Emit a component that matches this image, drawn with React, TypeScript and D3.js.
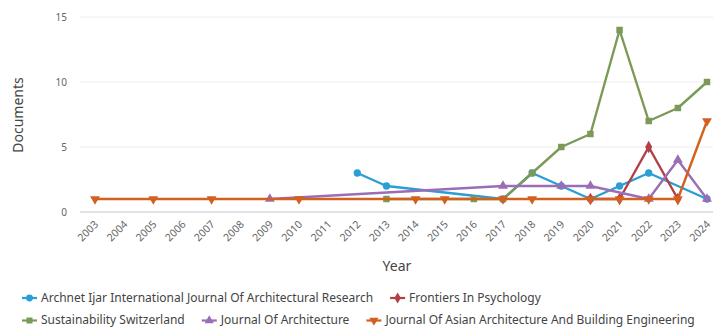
import { useEffect, useRef } from 'react';
import * as d3 from 'd3';

const years = d3.range(2003, 2025);
const yTicks = [0, 5, 10, 15];

const archnetYears = [2012, 2013, 2017, 2018, 2019, 2020, 2021, 2022, 2024];
const archnetValues = [3, 2, 1, 3, 2, 1, 2, 3, 1];

const frontiersYears = [2020, 2021, 2022, 2023];
const frontiersValues = [1, 1, 5, 1];

const sustainYears = [2013, 2016, 2017, 2018, 2019, 2020, 2021, 2022, 2023, 2024];
const sustainValues = [1, 1, 1, 3, 5, 6, 14, 7, 8, 10];

const archJournalYears = [2009, 2017, 2019, 2020, 2022, 2023, 2024];
const archJournalValues = [1, 2, 2, 2, 1, 4, 1];

const asianYears = [2003, 2005, 2007, 2010, 2014, 2015, 2017, 2018, 2020, 2021, 2022, 2023, 2024];
const asianValues = [1, 1, 1, 1, 1, 1, 1, 1, 1, 1, 1, 1, 7];

const seriesNames = [
  'Archnet Ijar International Journal Of Architectural Research',
  'Frontiers In Psychology',
  'Sustainability Switzerland',
  'Journal Of Architecture',
  'Journal Of Asian Architecture And Building Engineering',
];
const seriesColors = ['#2b9ed3', '#b23f45', '#7b9a58', '#9a6db6', '#d4601f'];
const seriesSymbols = [d3.symbolCircle, d3.symbolDiamond, d3.symbolSquare, d3.symbolTriangle, d3.symbolTriangle];
// legend rows: indexes of series on each row
const legendRows = [[0, 1], [2, 3, 4]];

const FONT = '"Noto Sans", "Open Sans", sans-serif';

export default function App() {
  const ref = useRef<SVGSVGElement>(null);

  useEffect(() => {
    if (!ref.current) return;
    const svg = d3.select(ref.current);
    svg.selectAll('*').remove();

    const W = 713;
    const x = d3.scalePoint<number>().domain(years).range([95, 707]);
    const y = d3.scaleLinear().domain([0, 15]).range([212, 17]);

    const series = [
      { xs: archnetYears, vs: archnetValues },
      { xs: frontiersYears, vs: frontiersValues },
      { xs: sustainYears, vs: sustainValues },
      { xs: archJournalYears, vs: archJournalValues },
      { xs: asianYears, vs: asianValues },
    ];

    // gridlines
    svg.append('g')
      .selectAll('line')
      .data(yTicks)
      .join('line')
      .attr('x1', 80).attr('x2', W)
      .attr('y1', d => y(d)).attr('y2', d => y(d))
      .attr('stroke', d => d === 0 ? '#d5d9de' : '#ececec')
      .attr('stroke-width', d => d === 0 ? 1.5 : 1);

    // y tick labels
    svg.append('g')
      .selectAll('text')
      .data(yTicks)
      .join('text')
      .attr('x', 67)
      .attr('y', d => y(d))
      .attr('dy', '0.35em')
      .attr('text-anchor', 'end')
      .attr('font-family', FONT)
      .attr('font-size', 10)
      .attr('fill', '#666')
      .text(d => d);

    // x tick labels
    svg.append('g')
      .selectAll('text')
      .data(years)
      .join('text')
      .attr('transform', d => `translate(${x(d)! + 4},${225}) rotate(-45)`)
      .attr('text-anchor', 'end')
      .attr('font-family', FONT)
      .attr('font-size', 10.5)
      .attr('fill', '#666')
      .text(d => d);

    // axis titles
    svg.append('text')
      .attr('transform', `translate(23,115) rotate(-90)`)
      .attr('text-anchor', 'middle')
      .attr('font-family', FONT)
      .attr('font-size', 14)
      .attr('fill', '#444')
      .text('Documents');

    svg.append('text')
      .attr('x', 397).attr('y', 271)
      .attr('text-anchor', 'middle')
      .attr('font-family', FONT)
      .attr('font-size', 14)
      .attr('fill', '#444')
      .text('Year');

    const line = d3.line<[number, number]>()
      .x(d => x(d[0])!)
      .y(d => y(d[1]));

    series.forEach((s, i) => {
      const pts: [number, number][] = s.xs.map((yr, j) => [yr, s.vs[j]]);
      const g = svg.append('g');
      g.append('path')
        .datum(pts)
        .attr('d', line)
        .attr('fill', 'none')
        .attr('stroke', seriesColors[i])
        .attr('stroke-width', 2.4)
        .attr('stroke-linejoin', 'round');
      const sym = d3.symbol().type(seriesSymbols[i]).size(i === 1 ? 44 : 42);
      g.selectAll('path.m')
        .data(pts)
        .join('path')
        .attr('class', 'm')
        .attr('d', sym as any)
        .attr('transform', d => `translate(${x(d[0])},${y(d[1])})${i === 4 ? ' rotate(180)' : ''}`)
        .attr('fill', seriesColors[i]);
    });

    // legend, flowing left to right on each row
    legendRows.forEach((row, r) => {
      let cx = 22;
      const ly = 298 + r * 22.5;
      row.forEach(i => {
        const g = svg.append('g').attr('transform', `translate(${cx},${ly})`);
        g.append('line')
          .attr('x1', 0).attr('x2', 15)
          .attr('stroke', seriesColors[i])
          .attr('stroke-width', 2.2);
        g.append('path')
          .attr('d', d3.symbol().type(seriesSymbols[i]).size(36)() as string)
          .attr('transform', `translate(7.5,0)${i === 4 ? ' rotate(180)' : ''}`)
          .attr('fill', seriesColors[i]);
        const t = g.append('text')
          .attr('x', 19)
          .attr('dy', '0.33em')
          .attr('font-family', FONT)
          .attr('font-size', 12)
          .attr('fill', '#444')
          .text(seriesNames[i]);
        const w = (t.node() as SVGTextElement).getComputedTextLength();
        cx += 19 + w + 17;
      });
    });
  }, []);

  return (
    <svg ref={ref} width={713} height={329} style={{ display: 'block', position: 'absolute', left: 0, top: 0, background: '#fff' }} />
  );
}
